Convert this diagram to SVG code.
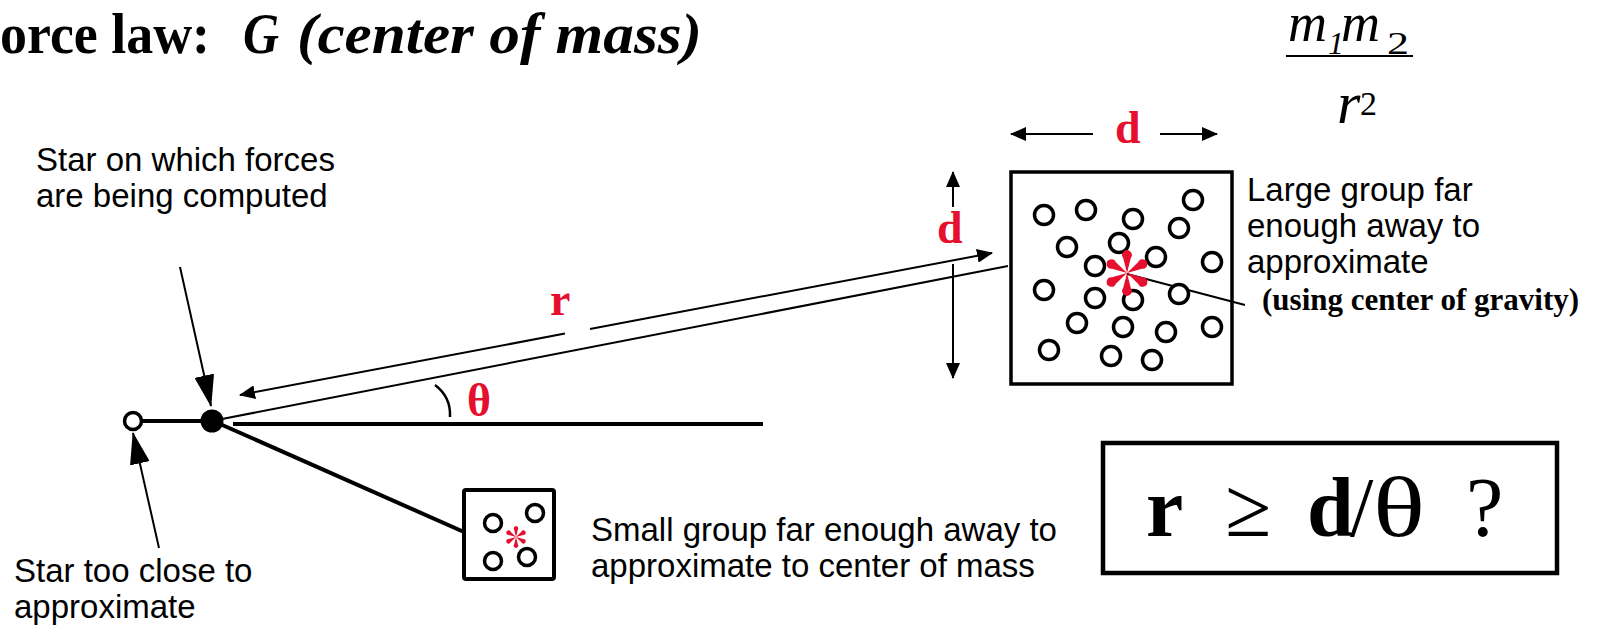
<svg xmlns="http://www.w3.org/2000/svg" width="1606" height="626" viewBox="0 0 1606 626">
<style>
.serif{font-family:"Liberation Serif","Times New Roman",serif}
.sans{font-family:"Liberation Sans",Arial,sans-serif;font-size:33px;fill:#000}
.red{fill:#e60f2d}
.lbl{font-family:"Liberation Serif","Times New Roman",serif;font-size:46px;font-weight:bold;fill:#e60f2d}
.ln{stroke:#000;fill:none}
.thin{stroke-width:2}
.thick{stroke-width:4}
.dot{fill:#fff;stroke:#000;stroke-width:3.5}
</style>
<defs>
<marker id="bigHead" markerUnits="userSpaceOnUse" viewBox="0 0 32 20" markerWidth="32" markerHeight="20" refX="31" refY="10" orient="auto">
<path d="M0,0 L32,10 L0,20 Z" fill="#000"/>
</marker>
<marker id="smallHead" markerUnits="userSpaceOnUse" viewBox="0 0 16 14" markerWidth="16" markerHeight="14" refX="15" refY="7" orient="auto-start-reverse">
<path d="M0,0 L16,7 L0,14 Z" fill="#000"/>
</marker>
<path id="petal" d="M0,0 L-3.8,-15 A4.8,4.8 0 1 1 3.8,-15 Z"/>
<g id="asterisk" class="red">
<use href="#petal"/>
<use href="#petal" transform="rotate(60)"/>
<use href="#petal" transform="rotate(120)"/>
<use href="#petal" transform="rotate(180)"/>
<use href="#petal" transform="rotate(240)"/>
<use href="#petal" transform="rotate(300)"/>
</g>
</defs>
<rect width="1606" height="626" fill="#fff"/>

<g id="title" class="serif" font-size="56" font-weight="bold">
<text x="0" y="53" textLength="210" lengthAdjust="spacingAndGlyphs">orce law:</text>
<text x="243" y="53" font-style="italic" textLength="36" lengthAdjust="spacingAndGlyphs">G</text>
<text x="297" y="53" font-style="italic" textLength="405" lengthAdjust="spacingAndGlyphs">(center of mass)</text>
</g>

<g id="force-fraction" class="serif" font-style="italic">
<text x="1288" y="41" font-size="54">m</text>
<text x="1328" y="54" font-size="32">1</text>
<text x="1341" y="41" font-size="54">m</text>
<text x="1387" y="54" font-size="32" font-style="normal" textLength="22" lengthAdjust="spacingAndGlyphs">2</text>
<line x1="1286" y1="56" x2="1413" y2="56" stroke="#000" stroke-width="2"/>
<text x="1337" y="123" font-size="60">r</text>
<text x="1360" y="115" font-size="34" font-style="normal">2</text>
</g>

<g id="connectors">
<line class="ln thin" x1="180" y1="267" x2="211" y2="406" marker-end="url(#bigHead)"/>
<line class="ln thin" x1="159" y1="548" x2="133" y2="433" marker-end="url(#bigHead)"/>
<line class="ln thin" x1="565" y1="333.6" x2="240" y2="395" marker-end="url(#smallHead)"/>
<line class="ln thin" x1="590" y1="329" x2="992" y2="253" marker-end="url(#smallHead)"/>
<line class="ln thin" x1="222" y1="419" x2="1008" y2="266"/>
<line class="ln thin" x1="1127" y1="274" x2="1245" y2="305"/>
<line class="ln thick" x1="233" y1="424" x2="763" y2="424"/>
<line class="ln thick" x1="220" y1="424" x2="464" y2="532"/>
<line class="ln thick" x1="142" y1="421" x2="202" y2="421"/>
<line class="ln thin" x1="1093" y1="134" x2="1011" y2="134" marker-end="url(#smallHead)"/>
<line class="ln thin" x1="1160" y1="134" x2="1217" y2="134" marker-end="url(#smallHead)"/>
<line class="ln thin" x1="953" y1="207" x2="953" y2="172" marker-end="url(#smallHead)"/>
<line class="ln thin" x1="953" y1="264" x2="953" y2="378" marker-end="url(#smallHead)"/>
<path class="ln" stroke-width="2.5" d="M435,385 Q451,397 450,417"/>
</g>

<g id="labels">
<text class="lbl" x="1115" y="143">d</text>
<text class="lbl" x="937" y="243">d</text>
<text class="lbl" x="550" y="315">r</text>
<text class="lbl" x="467" y="416" font-weight="normal">θ</text>
</g>

<g id="target-star">
<circle cx="212" cy="421" r="11.5" fill="#000"/>
<text class="sans" x="36" y="171">Star on which forces</text>
<text class="sans" x="36" y="207">are being computed</text>
</g>

<g id="close-star">
<circle class="dot" cx="133" cy="421" r="8.5"/>
<text class="sans" x="14" y="582">Star too close to</text>
<text class="sans" x="14" y="618">approximate</text>
</g>

<g id="large-group">
<rect x="1011" y="172" width="221" height="212" fill="none" stroke="#000" stroke-width="3.5"/>
<g class="dot" fill="none">
<circle cx="1044" cy="215" r="9.5"/>
<circle cx="1086" cy="210" r="9.5"/>
<circle cx="1133" cy="219" r="9.5"/>
<circle cx="1193" cy="200" r="9.5"/>
<circle cx="1179" cy="228" r="9.5"/>
<circle cx="1067" cy="247" r="9.5"/>
<circle cx="1119" cy="243" r="9.5"/>
<circle cx="1156" cy="257" r="9.5"/>
<circle cx="1212" cy="262" r="9.5"/>
<circle cx="1095" cy="266" r="9.5"/>
<circle cx="1044" cy="290" r="9.5"/>
<circle cx="1095" cy="298" r="9.5"/>
<circle cx="1133" cy="300" r="9.5"/>
<circle cx="1179" cy="294" r="9.5"/>
<circle cx="1077" cy="323" r="9.5"/>
<circle cx="1123" cy="327" r="9.5"/>
<circle cx="1166" cy="332" r="9.5"/>
<circle cx="1212" cy="327" r="9.5"/>
<circle cx="1049" cy="350" r="9.5"/>
<circle cx="1111" cy="356" r="9.5"/>
<circle cx="1152" cy="360" r="9.5"/>
</g>
<use href="#asterisk" x="1127" y="273"/>
<text class="sans" x="1247" y="201">Large group far</text>
<text class="sans" x="1247" y="237">enough away to</text>
<text class="sans" x="1247" y="273">approximate</text>
<text class="serif" x="1262" y="310" font-size="31" font-weight="bold">(using center of gravity)</text>
</g>

<g id="small-group">
<rect x="464" y="490" width="90" height="89" rx="2" fill="none" stroke="#000" stroke-width="4"/>
<g class="dot" fill="none">
<circle cx="493" cy="523" r="8.5"/>
<circle cx="535" cy="513" r="8.5"/>
<circle cx="493" cy="561" r="8.5"/>
<circle cx="527" cy="557" r="8.5"/>
</g>
<use href="#asterisk" transform="translate(516,537) scale(0.48)"/>
<text class="sans" x="591" y="541">Small group far enough away to</text>
<text class="sans" x="591" y="577">approximate to center of mass</text>
</g>

<g id="criterion">
<rect x="1103" y="443" width="454" height="130" fill="none" stroke="#000" stroke-width="4.5"/>
<text class="serif" x="1146" y="536" font-size="84" font-weight="bold">r</text>
<text class="serif" x="1225" y="536" font-size="84">≥</text>
<text class="serif" x="1307" y="536" font-size="84" font-weight="bold">d</text>
<text class="serif" x="1350" y="536" font-size="84">/</text>
<text class="serif" x="1373" y="536" font-size="84" textLength="52" lengthAdjust="spacingAndGlyphs">θ</text>
<text class="serif" x="1466" y="536" font-size="84">?</text>
</g>
</svg>
